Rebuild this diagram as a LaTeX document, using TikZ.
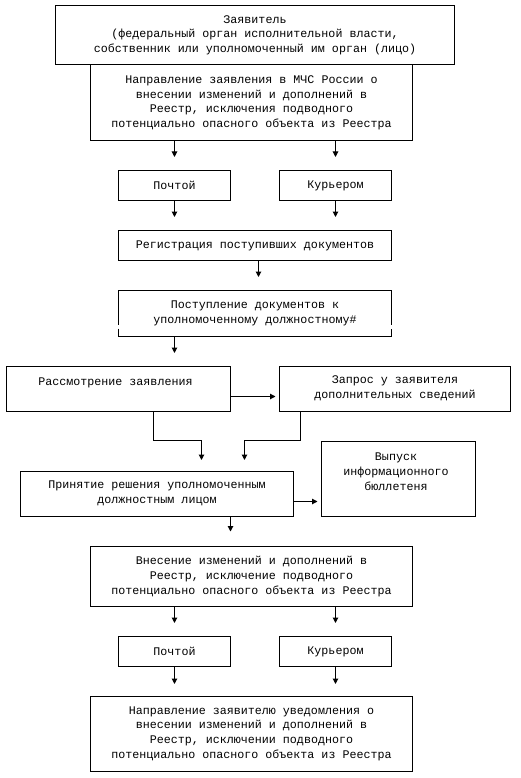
\documentclass[tikz,border=0pt]{standalone}
\usepackage{fontspec}
\setmainfont{Liberation Mono}
\usetikzlibrary{arrows.meta}
\begin{document}
\begin{tikzpicture}[x=1pt,y=-1pt,
  txt/.style={font=\fontsize{11.67}{14.8}\selectfont, align=center, inner sep=0pt},
  box/.style={txt, draw, line width=1pt, rectangle},
  nobox/.style={txt, rectangle},
  arr/.style={line width=1pt, -{Triangle[width=5.5pt,length=5.5pt]}}]
\useasboundingbox (0,0) rectangle (521,778);
% boxes
\node[box, minimum width=399pt, minimum height=59.5pt] (b1) at (255,35.25) {Заявитель\\(федеральный орган исполнительной власти,\\собственник или уполномоченный им орган (лицо)};
\node[box, minimum width=322pt, minimum height=75.5pt] (b2) at (251.5,102.75) {Направление заявления в МЧС России о\\внесении изменений и дополнений в\\Реестр, исключения подводного\\потенциально опасного объекта из Реестра};
\node[box, minimum width=112pt, minimum height=30pt] (p1) at (174.5,185.5) {Почтой};
\node[box, minimum width=112pt, minimum height=30pt] (k1) at (335.5,185.5) {Курьером};
\node[box, minimum width=273pt, minimum height=30pt] (reg) at (255,245.5) {Регистрация поступивших документов};
\node[nobox, minimum width=273pt, minimum height=45.5pt] (post) at (255,313.25) {Поступление документов к\\уполномоченному должностному\#};
\node[box, minimum width=224.5pt, minimum height=45pt] (ras) at (118.25,388.5) {};
\node[txt] (rast) at (115.5,382.5) {Рассмотрение заявления};
\node[box, minimum width=231pt, minimum height=45pt] (zap) at (395,388.5) {Запрос у заявителя\\дополнительных сведений};
\node[box, minimum width=273pt, minimum height=45pt] (prin) at (157,493.5) {Принятие решения уполномоченным\\должностным лицом};
\node[box, minimum width=154.5pt, minimum height=74.5pt] (vyp) at (398.25,478.75) {};
\node[txt] (vypt) at (396,471.7) {Выпуск\\информационного\\бюллетеня};
\node[box, minimum width=322pt, minimum height=60.5pt] (vnes) at (251.5,576.25) {Внесение изменений и дополнений в\\Реестр, исключение подводного\\потенциально опасного объекта из Реестра};
\node[box, minimum width=112pt, minimum height=30pt] (p2) at (174.5,651.5) {Почтой};
\node[box, minimum width=112pt, minimum height=30pt] (k2) at (335.5,651.5) {Курьером};
\node[box, minimum width=322pt, minimum height=74.5pt] (fin) at (251.5,733.75) {Направление заявителю уведомления о\\внесении изменений и дополнений в\\Реестр, исключении подводного\\потенциально опасного объекта из Реестра};
% broken-side frame of post
\coordinate (g1) at (0,324.5);
\coordinate (g2) at (0,328.5);
\draw[line width=1pt] (post.west |- g1) -- (post.north west) -- (post.north east) -- (post.east |- g1);
\draw[line width=1pt] (post.west |- g2) -- (post.south west) -- (post.south east) -- (post.east |- g2);
% arrow tips
\coordinate (a1) at (174.5,157);
\coordinate (a2) at (335.5,157);
\coordinate (a3) at (174.5,217);
\coordinate (a4) at (335.5,217);
\coordinate (a5) at (258.5,277);
\coordinate (a6) at (174.5,353);
\coordinate (m1) at (153.5,440.5);
\coordinate (t1) at (201.5,460);
\coordinate (m2) at (300.5,440.5);
\coordinate (t2) at (244.5,460);
\coordinate (h1) at (275.5,396.5);
\coordinate (h2) at (317.5,501.5);
\coordinate (a7) at (230.5,531.5);
\coordinate (a8) at (174.5,623);
\coordinate (a9) at (335.5,623);
\coordinate (a10) at (174.5,684);
\coordinate (a11) at (335.5,684);
% connectors
\draw[arr] (b2.south -| a1) -- (a1);
\draw[arr] (b2.south -| a2) -- (a2);
\draw[arr] (p1.south -| a3) -- (a3);
\draw[arr] (k1.south -| a4) -- (a4);
\draw[arr] (reg.south -| a5) -- (a5);
\draw[arr] (post.south -| a6) -- (a6);
\draw[arr] (ras.east |- h1) -- (h1);
\draw[arr] (ras.south -| m1) -- (m1) -- (m1 -| t1) -- (t1);
\draw[arr] (zap.south -| m2) -- (m2) -- (m2 -| t2) -- (t2);
\draw[arr] (prin.east |- h2) -- (h2);
\draw[arr] (prin.south -| a7) -- (a7);
\draw[arr] (vnes.south -| a8) -- (a8);
\draw[arr] (vnes.south -| a9) -- (a9);
\draw[arr] (p2.south -| a10) -- (a10);
\draw[arr] (k2.south -| a11) -- (a11);
\end{tikzpicture}
\end{document}
